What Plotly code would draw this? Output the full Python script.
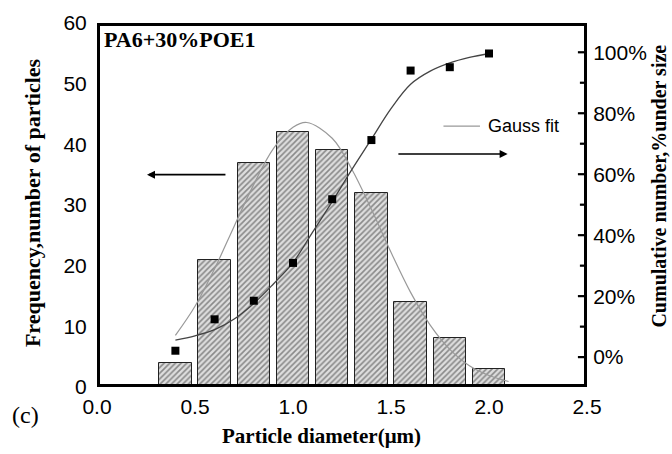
import plotly.graph_objects as go

# ---- data ----
diameters = [0.4, 0.6, 0.8, 1.0, 1.2, 1.4, 1.6, 1.8, 2.0]
frequency = [4, 21, 37, 42, 39, 32, 14, 8, 3]
cumulative = [2.1, 12.4, 18.5, 30.9, 51.8, 71.2, 94.0, 95.1, 99.6]

gauss_x = [0.4, 0.5, 0.6, 0.7, 0.8, 0.9, 1.0, 1.07, 1.2, 1.3, 1.4, 1.5, 1.6, 1.7, 1.8, 1.9, 2.0, 2.1]
gauss_y = [8.5, 13.3, 19.5, 26.5, 33.4, 39.3, 42.8, 43.6, 41.0, 35.9, 29.3, 22.2, 15.6, 10.2, 6.2, 3.5, 1.9, 0.9]

cumfit_x = [0.4, 0.5, 0.6, 0.7, 0.8, 0.9, 1.0, 1.1, 1.2, 1.3, 1.4, 1.5, 1.6, 1.7, 1.8, 1.9, 2.0]
cumfit_y = [5.6, 7.0, 9.0, 12.5, 17.6, 24.0, 31.0, 41.0, 51.0, 61.5, 71.5, 81.5, 89.5, 93.8, 96.5, 98.3, 99.6]

x_ticks = [0.0, 0.5, 1.0, 1.5, 2.0, 2.5]
y_ticks = [0, 10, 20, 30, 40, 50, 60]
y2_ticks = [0, 20, 40, 60, 80, 100]
y2_range = [-9.8, 109.6]

TICKFONT = dict(family="Liberation Sans, Arial", size=21, color="black")
SERIF_B = "Liberation Serif, Times New Roman"

W, H = 672, 454
M = dict(l=97, r=85, t=23, b=67)
PLOT_W = W - M["l"] - M["r"]
PLOT_H = H - M["t"] - M["b"]
XU = (x_ticks[-1] - x_ticks[0]) / PLOT_W          # x data units per pixel
YU = (y_ticks[-1] - y_ticks[0]) / PLOT_H          # y data units per pixel
Y2U = (y2_range[1] - y2_range[0]) / PLOT_H        # y2 data units per pixel

fig = go.Figure()

fig.add_trace(go.Bar(
    x=diameters, y=frequency, width=0.165,
    marker=dict(color="#d4d4d4",
                line=dict(color="#222", width=1),
                pattern=dict(shape="/", size=4, solidity=0.4,
                             fgcolor="#333333", bgcolor="#dedede")),
    showlegend=False, yaxis="y"))

fig.add_trace(go.Scatter(
    x=gauss_x, y=gauss_y, mode="lines", line_shape="spline",
    line=dict(color="#999999", width=1.2), name="Gauss fit",
    showlegend=False, yaxis="y"))

fig.add_trace(go.Scatter(
    x=cumfit_x, y=cumfit_y, mode="lines", line_shape="spline",
    line=dict(color="#444", width=1.3), showlegend=False, yaxis="y2"))

fig.add_trace(go.Scatter(
    x=diameters, y=cumulative, mode="markers",
    marker=dict(symbol="square", size=8, color="black"),
    showlegend=False, yaxis="y2"))

# ---- plot frame: four filled 3 px strips just inside the plot area ----
xa, xb = x_ticks[0], x_ticks[-1]
ya, yb = y_ticks[0], y_ticks[-1]
tx, ty = 3 * XU, 3 * YU
strips = [
    (xa, xb, ya, ya + ty),          # bottom
    (xa, xb, yb - ty, yb),          # top
    (xa, xa + tx, ya, yb),          # left
    (xb - tx, xb, ya, yb),          # right
]
fx, fy = [], []
for sx0, sx1, sy0, sy1 in strips:
    fx += [sx0, sx1, sx1, sx0, sx0, None]
    fy += [sy0, sy0, sy1, sy1, sy0, None]
fig.add_trace(go.Scatter(x=fx, y=fy, mode="lines", fill="toself", fillcolor="black",
                         line=dict(width=0, color="black"), showlegend=False,
                         hoverinfo="skip", yaxis="y"))

# ---- tick marks built from small filled squares, positions from the tick lists ----
def mids(vals):
    return [(a + b) / 2 for a, b in zip(vals[:-1], vals[1:])]

def add_ticks(vals, length, orient, yaxis, base, unit, inward=False):
    xs, ys = [], []
    steps = [1 + 2 * k for k in range(length // 2)]   # pixel offsets of 2 px squares
    for v in vals:
        for s in steps:
            off = (3 + s) if inward else -s
            if orient == "x":
                xs.append(v); ys.append(base + off * unit)
            else:
                xs.append(base + off * unit); ys.append(v)
    fig.add_trace(go.Scatter(x=xs, y=ys, mode="markers", cliponaxis=False,
                             showlegend=False, hoverinfo="skip", yaxis=yaxis,
                             marker=dict(symbol="square", size=2.2, color="black",
                                         line=dict(width=0))))

add_ticks(x_ticks, 6, "x", "y", ya, YU)
add_ticks(mids(x_ticks), 4, "x", "y", ya, YU)
add_ticks(y_ticks, 6, "y", "y", xa, XU)
add_ticks(mids(y_ticks), 4, "y", "y", xa, XU)
add_ticks(y2_ticks, 6, "y", "y2", xb, -XU, inward=True)
add_ticks(mids(y2_ticks), 4, "y", "y2", xb, -XU, inward=True)

HIDDEN = "rgba(0,0,0,0)"
AX = dict(showgrid=False, zeroline=False, showline=False, tickwidth=1, tickcolor=HIDDEN,
          tickfont=TICKFONT, fixedrange=True)

fig.update_layout(
    width=W, height=H,
    margin=M,
    paper_bgcolor="white", plot_bgcolor="white",
    showlegend=False,
    xaxis=dict(range=[xa, xb], tickmode="linear", tick0=x_ticks[0],
               dtick=x_ticks[1] - x_ticks[0], tickformat=".1f",
               ticks="outside", ticklen=1, **AX),
    yaxis=dict(range=[ya, yb], tickmode="linear", tick0=0,
               dtick=y_ticks[1] - y_ticks[0], ticks="outside", ticklen=5, **AX),
    yaxis2=dict(range=y2_range, overlaying="y", side="right", tickmode="linear",
                tick0=0, dtick=y2_ticks[1] - y2_ticks[0], ticksuffix="%",
                ticks="outside", ticklen=1, **AX),
    bargap=0,
)

annotations = [
    dict(text="<b>PA6+30%POE1</b>", xref="paper", yref="paper", x=0.01, y=0.995,
         xanchor="left", yanchor="top", showarrow=False,
         font=dict(family=SERIF_B, size=22, color="black")),
    dict(text="<b>Particle diameter(\u03bcm)</b>", xref="paper", yref="paper", x=0.459, y=-0.1346,
         xanchor="center", yanchor="middle", showarrow=False,
         font=dict(family=SERIF_B, size=21, color="black")),
    dict(text="<b>Frequency,number of particles</b>", xref="paper", yref="paper", x=-0.1327, y=0.508,
         xanchor="center", yanchor="middle", showarrow=False, textangle=-90,
         font=dict(family=SERIF_B, size=22, color="black")),
    dict(text="<b>Cumulative number,%under size</b>", xref="paper", yref="paper", x=1.148, y=0.552,
         xanchor="center", yanchor="middle", showarrow=False, textangle=-90,
         font=dict(family=SERIF_B, size=20, color="black")),
    dict(text="(c)", xref="paper", yref="paper", x=-0.178, y=-0.077,
         xanchor="left", yanchor="middle", showarrow=False,
         font=dict(family=SERIF_B, size=24, color="black")),
    # legend key for the Gauss fit curve
    dict(x=1.954, y=43.0, ax=1.760, ay=43.0, xref="x", yref="y", axref="x", ayref="y",
         showarrow=True, arrowhead=0, arrowwidth=1.2, arrowcolor="#999999", text=""),
    dict(text="Gauss fit", xref="x", yref="y", x=1.985, y=43.0, xanchor="left", yanchor="middle",
         showarrow=False, font=dict(family="Liberation Sans, Arial", size=18, color="black")),
    # direction arrows
    dict(x=0.255, y=35, ax=0.663, ay=35, xref="x", yref="y", axref="x", ayref="y",
         showarrow=True, arrowhead=2, arrowsize=1, arrowwidth=1.6, arrowcolor="black", text=""),
    dict(x=2.095, y=38.4, ax=1.53, ay=38.4, xref="x", yref="y", axref="x", ayref="y",
         showarrow=True, arrowhead=2, arrowsize=1, arrowwidth=1.6, arrowcolor="black", text=""),
]
fig.update_layout(annotations=annotations)

fig.write_html("out.html")
